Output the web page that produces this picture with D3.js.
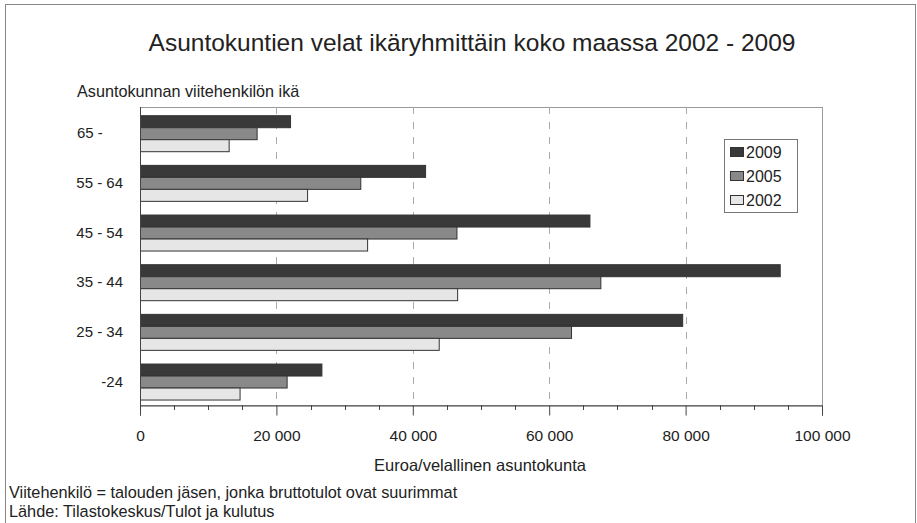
<!DOCTYPE html>
<html><head><meta charset="utf-8">
<script src="https://cdn.jsdelivr.net/npm/d3@7"></script>
<style>html,body{margin:0;padding:0;background:#fff;}svg{display:block;font-family:Arial,"Liberation Sans",sans-serif;}</style>
</head><body>
<svg id="chart" width="917" height="523"></svg>
<script>
const categories = ["65 -", "55 - 64", "45 - 54", "35 - 44", "25 - 34", "-24"];
const seriesNames = ["2009", "2005", "2002"];
const values2009 = [22000, 41800, 65900, 93800, 79500, 26600];
const values2005 = [17100, 32300, 46400, 67500, 63200, 21500];
const values2002 = [13000, 24500, 33300, 46500, 43800, 14600];
const xTicks = [0, 20000, 40000, 60000, 80000, 100000];
const title = "Asuntokuntien velat ikäryhmittäin koko maassa 2002 - 2009";
const yTitle = "Asuntokunnan viitehenkilön ikä";
const xTitle = "Euroa/velallinen asuntokunta";
const notes = ["Viitehenkilö = talouden jäsen, jonka bruttotulot ovat suurimmat", "Lähde: Tilastokeskus/Tulot ja kulutus"];

const colors = {"2009": "#393939", "2005": "#898989", "2002": "#e6e6e6"};
const seriesVals = {"2009": values2009, "2005": values2005, "2002": values2002};

const svg = d3.select("#chart");
const L = 140, R = 822, T = 107, B = 405;

// outer frame
svg.append("rect").attr("x", 5.5).attr("y", 4.5).attr("width", 910).attr("height", 530)
  .attr("fill", "none").attr("stroke", "#888").attr("stroke-width", 1);

const x = d3.scaleLinear().domain([0, 100000]).range([L, R]);
const y0 = d3.scaleBand().domain(categories).range([T, B]).padding(0);
const y1 = d3.scaleBand().domain(seriesNames).range([0, y0.bandwidth()]).paddingOuter(0.57).paddingInner(0).align(0.6);

// plot border
svg.append("rect").attr("x", L + 0.5).attr("y", T + 0.5).attr("width", R - L).attr("height", B - T)
  .attr("fill", "none").attr("stroke", "#999");

// gridlines
svg.append("g").selectAll("line").data(xTicks.filter(d => d > 0 && d < 100000)).join("line")
  .attr("x1", d => Math.round(x(d)) + 0.5).attr("x2", d => Math.round(x(d)) + 0.5)
  .attr("y1", T).attr("y2", B)
  .attr("stroke", "#aaa").attr("stroke-dasharray", "7,8");

// bars
const groups = svg.append("g").selectAll("g").data(categories).join("g")
  .attr("transform", d => `translate(0,${y0(d)})`);
groups.selectAll("rect").data((c, i) => seriesNames.map(s => ({s, v: seriesVals[s][i]}))).join("rect")
  .attr("x", x(0) + 0.5)
  .attr("y", d => y1(d.s) + 0.5)
  .attr("width", d => x(d.v) - x(0))
  .attr("height", y1.bandwidth())
  .attr("fill", d => colors[d.s])
  .attr("stroke", "#333").attr("stroke-width", 1);

// x axis
const xAxis = d3.axisBottom(x).tickValues(xTicks).tickSize(10)
  .tickFormat(d => d3.format(",")(d).replace(/,/g, " "));
const gx = svg.append("g").attr("transform", `translate(0,${B + 0.5})`).call(xAxis);
gx.select(".domain").attr("stroke", "#444");
gx.selectAll(".tick line").attr("stroke", "#444");
gx.selectAll("text").attr("font-size", "15.5px").attr("fill", "#222").attr("dy", "1.45em")
  .attr("font-family", "Arial, 'Liberation Sans', sans-serif");
// minor ticks
const minor = d3.range(5000, 100000, 5000).filter(d => d % 20000 !== 0);
svg.append("g").selectAll("line").data(minor).join("line")
  .attr("x1", d => Math.round(x(d)) + 0.5).attr("x2", d => Math.round(x(d)) + 0.5)
  .attr("y1", B).attr("y2", B + 5).attr("stroke", "#444");
// y axis line
svg.append("line").attr("x1", L + 0.5).attr("x2", L + 0.5).attr("y1", T).attr("y2", B + 10).attr("stroke", "#444");

// y labels
svg.append("g").selectAll("text").data(categories).join("text")
  .attr("x", d => d === "65 -" ? 77 : 123)
  .attr("text-anchor", d => d === "65 -" ? "start" : "end")
  .attr("y", d => y0(d) + y0.bandwidth() / 2 + 6.5)
  .attr("font-size", "15px").attr("fill", "#222")
  .text(d => d);

// titles
svg.append("text").attr("x", 472).attr("y", 51).attr("text-anchor", "middle")
  .attr("font-size", "24.5px").attr("fill", "#222").text(title);
svg.append("text").attr("x", 77).attr("y", 97).attr("font-size", "16.2px").attr("fill", "#222").text(yTitle);
svg.append("text").attr("x", 480).attr("y", 471).attr("text-anchor", "middle")
  .attr("font-size", "16.5px").attr("fill", "#222").text(xTitle);
svg.append("g").selectAll("text").data(notes).join("text")
  .attr("x", 9).attr("y", (d, i) => 498 + i * 19)
  .attr("font-size", "16.3px").attr("fill", "#222").text(d => d);

// legend
const lg = svg.append("g");
lg.append("rect").attr("x", 724.5).attr("y", 139.5).attr("width", 73).attr("height", 73)
  .attr("fill", "#fff").attr("stroke", "#777");
const li = lg.selectAll("g").data(seriesNames).join("g")
  .attr("transform", (d, i) => `translate(730,${152 + i * 24})`);
li.append("rect").attr("x", 0.5).attr("y", -4.5).attr("width", 13).attr("height", 9)
  .attr("fill", d => colors[d]).attr("stroke", "#333");
li.append("text").attr("x", 16).attr("y", 6).attr("font-size", "16px").attr("fill", "#222").text(d => d);
</script>
</body></html>
